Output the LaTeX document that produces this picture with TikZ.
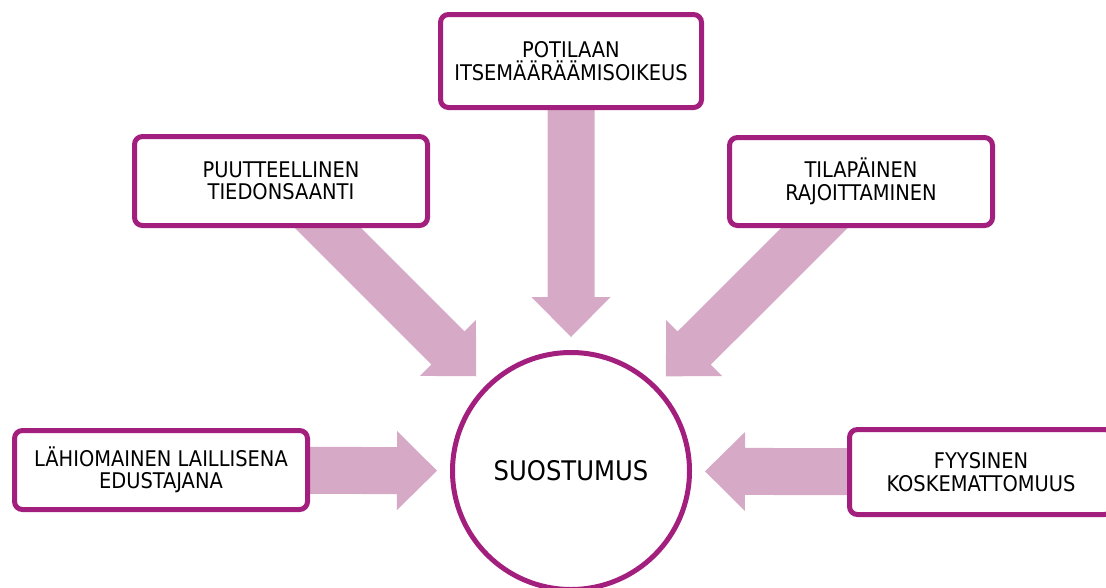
\documentclass[tikz,border=0pt]{standalone}
\usepackage{fontspec}
\setmainfont{DejaVu Sans Condensed}
\usetikzlibrary{calc}
\definecolor{ringpurple}{HTML}{A31F7E}
\definecolor{arrowpink}{HTML}{D6AAC6}
\pgfdeclarelayer{back}
\pgfsetlayers{back,main}

% Broad block arrow from the centre of node #1 towards node #2,
% ending a fixed distance before the centre of #2.
\newcommand\fatarrow[2]{%
  \coordinate (fa-t) at ($(#2)!134pt!(#1)$);
  \coordinate (fa-b) at ($(fa-t)!40pt!(#1)$);
  \begin{pgfonlayer}{back}
    \fill[arrowpink]
      ($(#1)!23.5pt!90:(fa-t)$) -- ($(fa-b)!23.5pt!90:(fa-t)$)
      -- ($(fa-b)!39.5pt!90:(fa-t)$) -- (fa-t)
      -- ($(fa-b)!39.5pt!-90:(fa-t)$) -- ($(fa-b)!23.5pt!-90:(fa-t)$)
      -- ($(#1)!23.5pt!-90:(fa-t)$) -- cycle;
  \end{pgfonlayer}%
}

\tikzset{
  topicbox/.style={draw=ringpurple, line width=5pt, fill=white,
    rounded corners=8pt, align=center, inner sep=0pt,
    font=\fontsize{21.6}{22.5}\selectfont},
  hub/.style={circle, draw=ringpurple, line width=5pt, fill=white,
    minimum size=237pt, inner sep=0pt,
    font=\fontsize{27}{30}\selectfont}
}

\begin{document}
\begin{tikzpicture}[x=1pt, y=-1pt]
  \useasboundingbox (0,0) rectangle (1106,587);
  \clip (0,0) rectangle (1106,587);

  \node[hub] (c) at (571,471) {SUOSTUMUS};

  \node[topicbox, minimum width=261pt, minimum height=93pt] (top) at (571,61)
    {POTILAAN\\ITSEMÄÄRÄÄMISOIKEUS};
  \node[topicbox, minimum width=293pt, minimum height=89pt] (tl) at (281,181)
    {PUUTTEELLINEN\\TIEDONSAANTI};
  \node[topicbox, minimum width=263pt, minimum height=88pt] (tr) at (861,181.5)
    {TILAPÄINEN\\RAJOITTAMINEN};
  \node[topicbox, minimum width=293pt, minimum height=79pt] (bl) at (161,470)
    {LÄHIOMAINEN LAILLISENA\\EDUSTAJANA};
  \node[topicbox, minimum width=263pt, minimum height=85pt] (br) at (981,472)
    {FYYSINEN\\KOSKEMATTOMUUS};

  \fatarrow{top}{c}
  \fatarrow{tl}{c}
  \fatarrow{tr}{c}
  \fatarrow{bl}{c}
  \fatarrow{br}{c}
\end{tikzpicture}
\end{document}
